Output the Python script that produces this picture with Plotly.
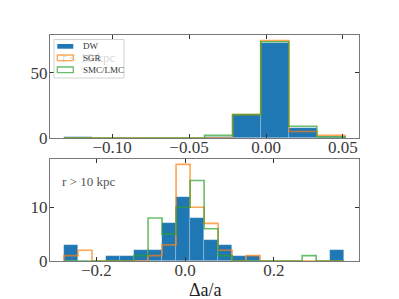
import plotly.graph_objects as go

W, H = 399, 299

# ---------------- data ----------------
top_edges = [-0.1312, -0.11295, -0.0947, -0.07645, -0.0582, -0.03995, -0.0217, -0.00345, 0.0148, 0.03305, 0.0513]
top_dw = [1, 0, 0, 0, 0, 1, 18, 73, 8, 1]
top_sgr = [0, 0, 0, 0, 0, 0, 18, 75, 5, 2]
top_smc = [0, 0, 0, 0, 0, 2, 18, 74, 9, 1]

bot_edges = [-0.2728, -0.24123, -0.20966, -0.17809, -0.14652, -0.11495, -0.08338, -0.05181, -0.02024,
             0.01133, 0.0429, 0.07447, 0.10604, 0.13761, 0.16918, 0.20075, 0.23232, 0.26389, 0.29546,
             0.32703, 0.3586]
bot_dw = [3, 0, 0, 1, 1, 2, 2, 7, 12, 8, 4, 3, 1, 1, 0, 0, 0, 0, 0, 2]
bot_sgr = [1, 2, 0, 0, 0, 0, 1, 3, 18, 10, 7, 2, 0, 1, 0, 0, 0, 0, 0, 0]
bot_smc = [0, 0, 0, 0, 0, 1, 8, 5, 10, 15, 6, 1, 0, 0, 0, 0, 0, 1, 0, 0]

top_xticks = [-0.10, -0.05, 0.00, 0.05]
top_yticks = [0, 50]
bot_xticks = [-0.2, 0.0, 0.2]
bot_yticks = [0, 10]

series_names = ["DW", "SGR", "SMC/LMC"]
x_title = "Δa/a"
# --------------------------------------

BLUE = "#1f77b4"
ORANGE = "rgba(255,127,14,0.7)"
GREEN = "rgba(44,160,44,0.7)"
FRAME = "rgb(120,120,120)"
FONT = "Liberation Serif"


def px_x(p):
    return p / W


def px_y(p):
    return 1 - p / H


def bar_trace(edges, counts, xa, ya):
    centers = [(edges[i] + edges[i + 1]) / 2 for i in range(len(counts))]
    widths = [edges[i + 1] - edges[i] for i in range(len(counts))]
    return go.Bar(x=centers, y=counts, width=widths,
                  marker=dict(color=BLUE, line=dict(width=0.6, color="rgba(255,255,255,0.35)")),
                  xaxis=xa, yaxis=ya, showlegend=False, hoverinfo="skip")


def step_trace(edges, counts, color, xa, ya):
    xs = [edges[0]] + edges[:len(counts)] + [edges[-1]]
    ys = [0] + counts + [0]
    return go.Scatter(x=xs, y=ys, mode="lines", line=dict(color=color, width=1.6, shape="hv"),
                      xaxis=xa, yaxis=ya, showlegend=False, hoverinfo="skip")


fig = go.Figure()
fig.add_trace(bar_trace(top_edges, top_dw, "x", "y"))
fig.add_trace(step_trace(top_edges, top_sgr, ORANGE, "x", "y"))
fig.add_trace(step_trace(top_edges, top_smc, GREEN, "x", "y"))
fig.add_trace(bar_trace(bot_edges, bot_dw, "x2", "y2"))
fig.add_trace(step_trace(bot_edges, bot_sgr, ORANGE, "x2", "y2"))
fig.add_trace(step_trace(bot_edges, bot_smc, GREEN, "x2", "y2"))

axis_common = dict(showgrid=False, zeroline=False, showline=True, linecolor=FRAME, linewidth=1.3,
                   mirror="ticks", ticks="inside", ticklen=4, tickwidth=1, tickcolor="#333",
                   tickfont=dict(family=FONT, size=17, color="#3a3a3a"), automargin=False)

xdom = [px_x(50), px_x(359)]
fig.update_layout(
    width=W, height=H,
    margin=dict(l=0, r=0, t=0, b=0),
    paper_bgcolor="white", plot_bgcolor="white",
    bargap=0, barmode="overlay",
    showlegend=False,
    xaxis=dict(domain=xdom, anchor="y", range=[-0.1403, 0.0604], tickvals=top_xticks,
               tickformat=".2f", ticklabelstandoff=-7, **axis_common),
    yaxis=dict(domain=[px_y(138), px_y(35)], anchor="x", range=[0, 79.2], tickvals=top_yticks,
               ticklabelstandoff=-2, **axis_common),
    xaxis2=dict(domain=xdom, anchor="y2", range=[-0.3044, 0.392], tickvals=bot_xticks,
                tickformat=".1f", ticklabelstandoff=-7, **axis_common),
    yaxis2=dict(domain=[px_y(261), px_y(159)], anchor="x2", range=[0, 19.0], tickvals=bot_yticks,
                ticklabelstandoff=-2, **axis_common),
)

# x-axis title
fig.add_annotation(text=x_title, xref="paper", yref="paper", x=px_x(205), y=px_y(290),
                   xanchor="center", yanchor="middle", showarrow=False,
                   font=dict(family=FONT, size=18, color="#222"))

# panel labels
fig.add_annotation(text="r < 10 kpc", xref="paper", yref="paper", x=px_x(60), y=px_y(58),
                   xanchor="left", yanchor="middle", showarrow=False,
                   font=dict(family=FONT, size=13, color="rgba(150,150,150,0.4)"))
fig.add_annotation(text="r > 10 kpc", xref="paper", yref="paper", x=px_x(60), y=px_y(181.5),
                   xanchor="left", yanchor="middle", showarrow=False,
                   font=dict(family=FONT, size=13, color="#555"))

# manual legend
fig.add_shape(type="rect", xref="paper", yref="paper", x0=px_x(54), x1=px_x(124), y0=px_y(78), y1=px_y(39.5),
              line=dict(color="rgb(210,210,210)", width=1), fillcolor="rgba(255,255,255,0.8)", layer="above")
patches = [(44, 48.7, BLUE, None, 46.3),
           (55, 60.7, "rgba(0,0,0,0)", ORANGE, 57.8),
           (67, 72.7, "rgba(0,0,0,0)", GREEN, 70)]
for name, (y0, y1, fill, line, ty) in zip(series_names, patches):
    fig.add_shape(type="rect", xref="paper", yref="paper", x0=px_x(57.3), x1=px_x(73.3), y0=px_y(y1), y1=px_y(y0),
                  fillcolor=fill, line=dict(color=line or "rgba(0,0,0,0)", width=1.3 if line else 0), layer="above")
    fig.add_annotation(text=name, xref="paper", yref="paper", x=px_x(80.5), y=px_y(ty),
                       xanchor="left", yanchor="middle", showarrow=False,
                       font=dict(family=FONT, size=9, color="#333"))

fig.write_html("out.html", config={"displayModeBar": False},
               post_script="document.body.style.margin='0';")
